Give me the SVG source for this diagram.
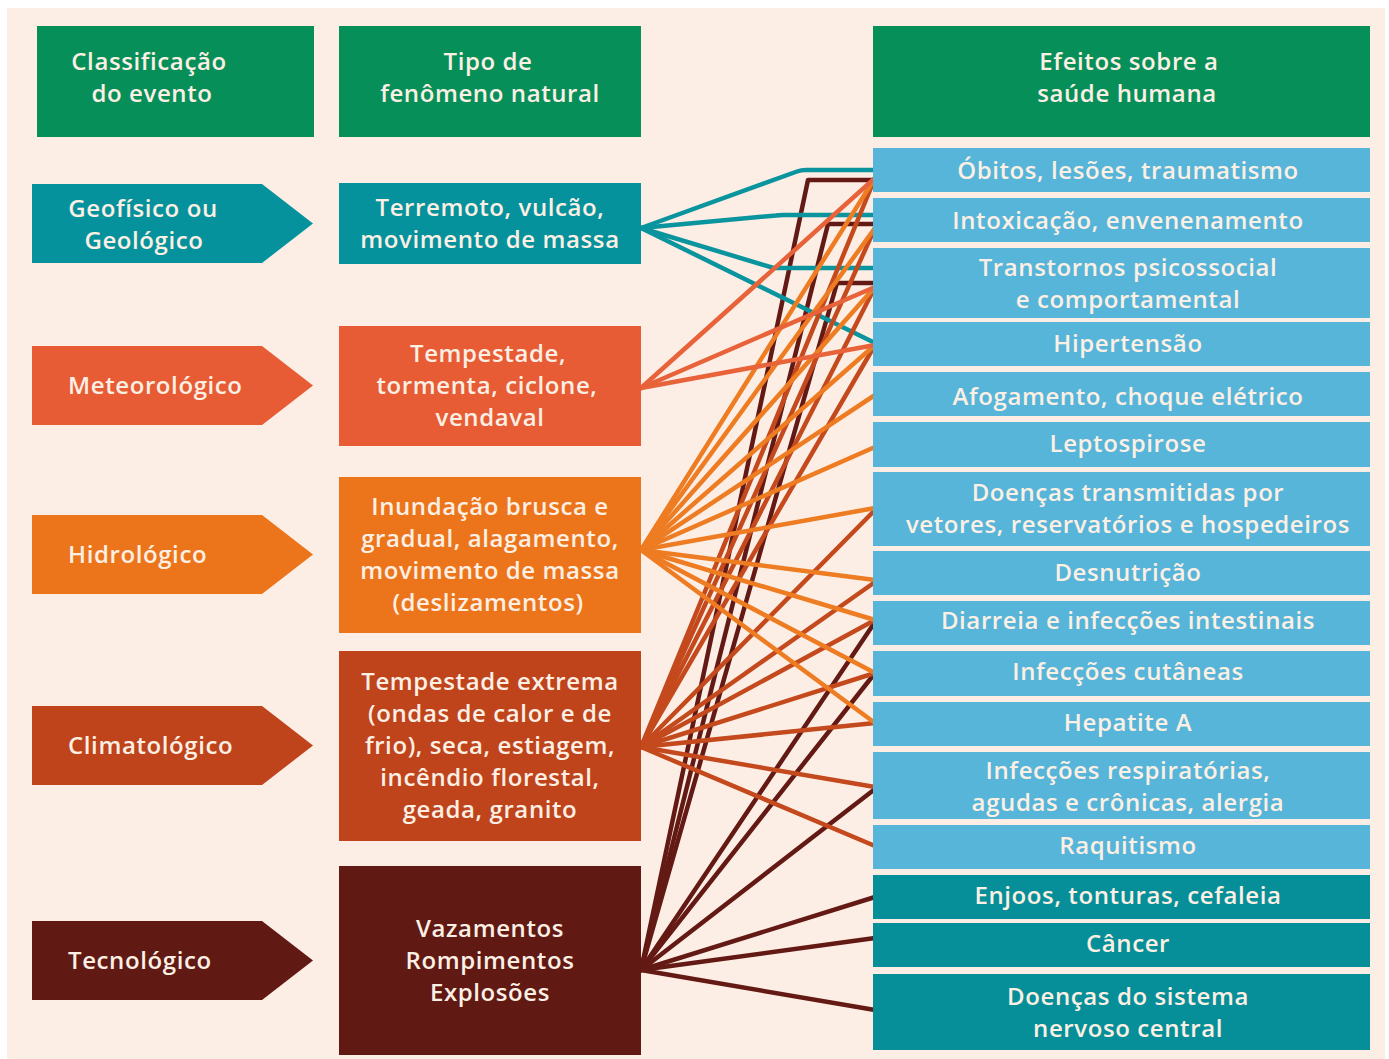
<svg xmlns="http://www.w3.org/2000/svg" width="1389" height="1059" viewBox="0 0 1389 1059">
  <style>
    .t { font-family: "Open Sans", "Noto Sans", "Liberation Sans", sans-serif; font-weight: 600; font-size: 24px; letter-spacing: 0.6px; fill: #fcefe4; }
    .c { text-anchor: middle; }
    .hdr { fill: #078f5a; }
    .geo { fill: #05929c; }
    .met { fill: #e75c34; }
    .hid { fill: #ec751c; }
    .cli { fill: #bf431b; }
    .tec { fill: #601913; }
    .eff { fill: #56b5d9; }
    .eff2 { fill: #068f99; }
    .ln { fill: none; stroke-width: 4.5; stroke-linejoin: round; stroke-linecap: round; }
    .lgeo { stroke: #0a949e; }
    .lmet { stroke: #e8623a; }
    .lhid { stroke: #ee7c22; }
    .lcli { stroke: #c44a1e; }
    .ltec { stroke: #641a14; }
  </style>

  <rect width="1389" height="1059" fill="#ffffff"/>
  <rect x="7" y="8" width="1378" height="1051" fill="#fdeee5"/>

  <!-- column headers -->
  <g id="hdr-classificacao">
    <rect class="hdr" x="37" y="26" width="277" height="111"/>
    <text class="t c" x="149" y="70">Classificação</text>
    <text class="t c" x="152" y="102">do evento</text>
  </g>
  <g id="hdr-tipo">
    <rect class="hdr" x="339" y="26" width="302" height="111"/>
    <text class="t c" x="488" y="70">Tipo de</text>
    <text class="t c" x="490" y="102">fenômeno natural</text>
  </g>
  <g id="hdr-efeitos">
    <rect class="hdr" x="873" y="26" width="497" height="111"/>
    <text class="t c" x="1129" y="70">Efeitos sobre a</text>
    <text class="t c" x="1127" y="102">saúde humana</text>
  </g>

  <!-- event classification arrows -->
  <g id="cls-geofisico">
    <polygon class="geo" points="32,184 262,184 313,223.5 262,263 32,263"/>
    <text class="t c" x="143" y="217">Geofísico ou</text>
    <text class="t c" x="144" y="249">Geológico</text>
  </g>
  <g id="cls-meteorologico">
    <polygon class="met" points="32,346 262,346 313,385.5 262,425 32,425"/>
    <text class="t" x="68" y="394">Meteorológico</text>
  </g>
  <g id="cls-hidrologico">
    <polygon class="hid" points="32,515 262,515 313,554.5 262,594 32,594"/>
    <text class="t" x="68" y="563">Hidrológico</text>
  </g>
  <g id="cls-climatologico">
    <polygon class="cli" points="32,706 262,706 313,745.5 262,785 32,785"/>
    <text class="t" x="68" y="754">Climatológico</text>
  </g>
  <g id="cls-tecnologico">
    <polygon class="tec" points="32,921 262,921 313,960.5 262,1000 32,1000"/>
    <text class="t" x="68" y="969">Tecnológico</text>
  </g>

  <!-- connectors -->
  <g id="connectors" class="ln">
    <!-- technological -->
    <g class="ltec">
      <polyline points="641,970 808,180 875,180"/>
      <polyline points="641,970 828,224 875,224"/>
      <polyline points="641,970 837,283 875,283"/>
      <line x1="641" y1="970" x2="875" y2="622"/>
      <line x1="641" y1="970" x2="875" y2="673"/>
      <line x1="641" y1="970" x2="875" y2="789"/>
      <line x1="641" y1="970" x2="875" y2="897"/>
      <line x1="641" y1="970" x2="875" y2="938"/>
      <line x1="641" y1="970" x2="875" y2="1010"/>
    </g>
    <!-- geophysical -->
    <g class="lgeo">
      <path d="M641 228 L797 171.5 Q801 170 806 170 L875 170"/>
      <path d="M641 228 L776 215.5 Q779 215 783 215 L875 215"/>
      <path d="M641 228 L772 267.5 Q774 268 778 268 L875 268"/>
      <line x1="641" y1="228" x2="875" y2="343"/>
    </g>
    <!-- climatological -->
    <g class="lcli">
      <line x1="641" y1="747" x2="875" y2="178"/>
      <line x1="641" y1="747" x2="875" y2="228"/>
      <line x1="641" y1="747" x2="875" y2="287"/>
      <line x1="641" y1="747" x2="875" y2="345"/>
      <line x1="641" y1="747" x2="875" y2="510"/>
      <line x1="641" y1="747" x2="875" y2="582"/>
      <line x1="641" y1="747" x2="875" y2="620"/>
      <line x1="641" y1="747" x2="875" y2="673"/>
      <line x1="641" y1="747" x2="875" y2="723"/>
      <line x1="641" y1="747" x2="875" y2="787"/>
      <line x1="641" y1="747" x2="875" y2="846"/>
    </g>
    <!-- hydrological -->
    <g class="lhid">
      <line x1="641" y1="550" x2="875" y2="178"/>
      <line x1="641" y1="550" x2="875" y2="228"/>
      <line x1="641" y1="550" x2="875" y2="287"/>
      <line x1="641" y1="550" x2="875" y2="345"/>
      <line x1="641" y1="550" x2="875" y2="395"/>
      <line x1="641" y1="550" x2="875" y2="447"/>
      <line x1="641" y1="550" x2="875" y2="508"/>
      <line x1="641" y1="550" x2="875" y2="580"/>
      <line x1="641" y1="550" x2="875" y2="620"/>
      <line x1="641" y1="550" x2="875" y2="673"/>
      <line x1="641" y1="550" x2="875" y2="723"/>
    </g>
    <!-- meteorological -->
    <g class="lmet">
      <line x1="641" y1="388" x2="875" y2="178"/>
      <line x1="641" y1="388" x2="875" y2="287"/>
      <line x1="641" y1="388" x2="875" y2="345"/>
    </g>
  </g>

  <!-- natural phenomenon types -->
  <g id="tipo-terremoto">
    <rect class="geo" x="339" y="183" width="302" height="81"/>
    <text class="t c" x="490" y="216">Terremoto, vulcão,</text>
    <text class="t c" x="490" y="248">movimento de massa</text>
  </g>
  <g id="tipo-tempestade">
    <rect class="met" x="339" y="326" width="302" height="120"/>
    <text class="t c" x="488" y="362">Tempestade,</text>
    <text class="t c" x="487" y="394">tormenta, ciclone,</text>
    <text class="t c" x="490" y="426">vendaval</text>
  </g>
  <g id="tipo-inundacao">
    <rect class="hid" x="339" y="477" width="302" height="156"/>
    <text class="t c" x="490" y="515">Inundação brusca e</text>
    <text class="t c" x="490" y="547">gradual, alagamento,</text>
    <text class="t c" x="490" y="579">movimento de massa</text>
    <text class="t c" x="488" y="611">(deslizamentos)</text>
  </g>
  <g id="tipo-extrema">
    <rect class="cli" x="339" y="651" width="302" height="190"/>
    <text class="t c" x="490" y="690">Tempestade extrema</text>
    <text class="t c" x="490" y="722">(ondas de calor e de</text>
    <text class="t c" x="490" y="754">frio), seca, estiagem,</text>
    <text class="t c" x="490" y="786">incêndio florestal,</text>
    <text class="t c" x="490" y="818">geada, granito</text>
  </g>
  <g id="tipo-vazamentos">
    <rect class="tec" x="339" y="866" width="302" height="189"/>
    <text class="t c" x="490" y="937">Vazamentos</text>
    <text class="t c" x="490" y="969">Rompimentos</text>
    <text class="t c" x="490" y="1001">Explosões</text>
  </g>

  <!-- health effects -->
  <g id="ef-obitos">
    <rect class="eff" x="873" y="148" width="497" height="44"/>
    <text class="t c" x="1128" y="179">Óbitos, lesões, traumatismo</text>
  </g>
  <g id="ef-intoxicacao">
    <rect class="eff" x="873" y="198" width="497" height="44"/>
    <text class="t c" x="1128" y="229">Intoxicação, envenenamento</text>
  </g>
  <g id="ef-transtornos">
    <rect class="eff" x="873" y="248" width="497" height="70"/>
    <text class="t c" x="1128" y="276">Transtornos psicossocial</text>
    <text class="t c" x="1128" y="308">e comportamental</text>
  </g>
  <g id="ef-hipertensao">
    <rect class="eff" x="873" y="322" width="497" height="44"/>
    <text class="t c" x="1128" y="352">Hipertensão</text>
  </g>
  <g id="ef-afogamento">
    <rect class="eff" x="873" y="372" width="497" height="44"/>
    <text class="t c" x="1128" y="405">Afogamento, choque elétrico</text>
  </g>
  <g id="ef-leptospirose">
    <rect class="eff" x="873" y="422" width="497" height="45"/>
    <text class="t c" x="1128" y="452">Leptospirose</text>
  </g>
  <g id="ef-vetores">
    <rect class="eff" x="873" y="472" width="497" height="74"/>
    <text class="t c" x="1128" y="501">Doenças transmitidas por</text>
    <text class="t c" x="1128" y="533">vetores, reservatórios e hospedeiros</text>
  </g>
  <g id="ef-desnutricao">
    <rect class="eff" x="873" y="551" width="497" height="44"/>
    <text class="t c" x="1128" y="581">Desnutrição</text>
  </g>
  <g id="ef-diarreia">
    <rect class="eff" x="873" y="601" width="497" height="44"/>
    <text class="t c" x="1128" y="629">Diarreia e infecções intestinais</text>
  </g>
  <g id="ef-cutaneas">
    <rect class="eff" x="873" y="651" width="497" height="45"/>
    <text class="t c" x="1128" y="680">Infecções cutâneas</text>
  </g>
  <g id="ef-hepatite">
    <rect class="eff" x="873" y="702" width="497" height="44"/>
    <text class="t c" x="1128" y="731">Hepatite A</text>
  </g>
  <g id="ef-respiratorias">
    <rect class="eff" x="873" y="752" width="497" height="67"/>
    <text class="t c" x="1128" y="779">Infecções respiratórias,</text>
    <text class="t c" x="1128" y="811">agudas e crônicas, alergia</text>
  </g>
  <g id="ef-raquitismo">
    <rect class="eff" x="873" y="825" width="497" height="44"/>
    <text class="t c" x="1128" y="854">Raquitismo</text>
  </g>
  <g id="ef-enjoos">
    <rect class="eff2" x="873" y="875" width="497" height="44"/>
    <text class="t c" x="1128" y="904">Enjoos, tonturas, cefaleia</text>
  </g>
  <g id="ef-cancer">
    <rect class="eff2" x="873" y="923" width="497" height="44"/>
    <text class="t c" x="1128" y="952">Câncer</text>
  </g>
  <g id="ef-snc">
    <rect class="eff2" x="873" y="974" width="497" height="76"/>
    <text class="t c" x="1128" y="1005">Doenças do sistema</text>
    <text class="t c" x="1128" y="1037">nervoso central</text>
  </g>
</svg>
